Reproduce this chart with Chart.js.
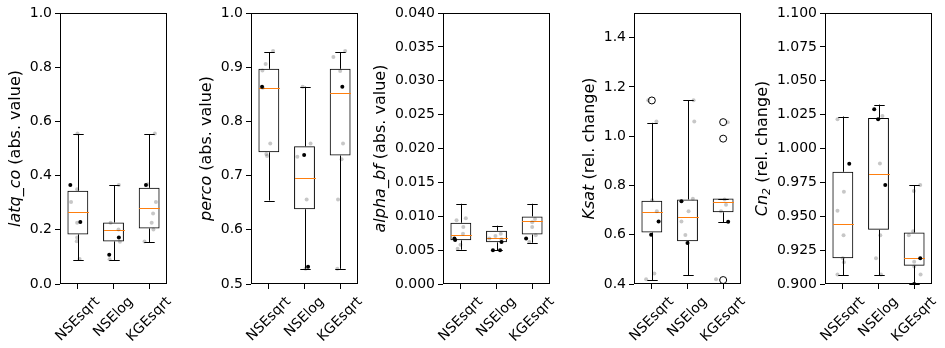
<!DOCTYPE html>
<html>
<head>
<meta charset="utf-8">
<script src="https://cdn.jsdelivr.net/npm/chart.js@4.4.1/dist/chart.umd.min.js"></script>
<style>
  body { margin: 0; background: #fff; overflow: hidden; }
  #wrap { position: relative; width: 945px; height: 348px; }
  canvas { position: absolute; top: 0; }
</style>
</head>
<body>
<div id="wrap"></div>
<script>
// Categories shared by all five panels
const categories = ['NSEsqrt', 'NSElog', 'KGEsqrt'];

// Box stats per category: [low whisker, q1, median, q3, high whisker]
const latqBox = [[0.087, 0.183, 0.264, 0.344, 0.552], [0.087, 0.157, 0.201, 0.227, 0.364], [0.154, 0.205, 0.279, 0.355, 0.552]];
const latqGray = [[0.99, 0.555], [0.98, 0.35], [0.81, 0.303], [0.98, 0.226], [0.98, 0.172], [0.97, 0.158], [1.05, 0.092],
  [2.15, 0.365], [1.92, 0.226], [2.14, 0.201], [2.18, 0.156], [1.89, 0.091],
  [2.96, 0.368], [3.19, 0.303], [3.11, 0.26], [3.07, 0.226], [3.12, 0.201], [2.87, 0.157], [3.16, 0.555]];
const latqBlack = [[0.79, 0.365], [1.07, 0.229], [2.15, 0.172], [1.88, 0.108], [2.91, 0.365]];
const latqOut = [];
const latqTicks = [0, 0.2, 0.4, 0.6, 0.8, 1.0];

const percoBox = [[0.654, 0.743, 0.862, 0.897, 0.928], [0.528, 0.638, 0.695, 0.754, 0.864], [0.528, 0.737, 0.853, 0.897, 0.928]];
const percoGray = [[1.12, 0.93], [0.91, 0.906], [0.82, 0.894], [0.83, 0.862], [1.04, 0.759], [0.93, 0.74], [0.95, 0.736],
  [1.95, 0.864], [2.17, 0.759], [1.80, 0.735], [2.06, 0.656], [2.03, 0.528],
  [3.14, 0.93], [2.81, 0.919], [3.0, 0.893], [3.08, 0.759], [3.04, 0.73], [2.94, 0.656], [2.92, 0.528]];
const percoBlack = [[0.81, 0.864], [1.99, 0.738], [2.10, 0.532], [3.06, 0.864]];
const percoOut = [];
const percoTicks = [0.5, 0.6, 0.7, 0.8, 0.9, 1.0];

const alphaBox = [[0.00506, 0.00644, 0.00718, 0.00904, 0.01184], [0.00497, 0.00615, 0.00683, 0.00786, 0.0086], [0.00609, 0.0073, 0.00924, 0.00998, 0.01184]];
const alphaGray = [[0.88, 0.0094], [1.14, 0.0097], [1.07, 0.0084], [1.06, 0.0074], [0.99, 0.0058], [0.91, 0.0052],
  [1.80, 0.0067], [1.97, 0.0071], [2.12, 0.0074], [2.14, 0.0066],
  [3.0, 0.0091], [3.08, 0.0096], [3.0, 0.0084], [3.1, 0.0072], [2.92, 0.0062]];
const alphaBlack = [[0.82, 0.0067], [0.84, 0.0065], [2.14, 0.0062], [1.90, 0.0050], [2.10, 0.0050], [2.83, 0.0067]];
const alphaOut = [];
const alphaTicks = [0, 0.005, 0.01, 0.015, 0.02, 0.025, 0.03, 0.035, 0.04];

const ksatBox = [[0.415, 0.609, 0.691, 0.738, 1.054], [0.435, 0.574, 0.670, 0.743, 1.146], [0.651, 0.691, 0.731, 0.747, 0.747]];
const ksatGray = [[0.9, 1.146], [1.13, 1.06], [1.01, 0.74], [1.14, 0.695], [0.84, 0.419], [1.07, 0.443],
  [2.17, 1.146], [2.19, 1.06], [2.15, 0.746], [2.03, 0.695], [1.83, 0.654], [1.94, 0.599],
  [3.13, 1.057], [3.04, 0.743], [3.08, 0.722], [2.94, 0.695], [2.8, 0.419]];
const ksatBlack = [[1.19, 0.654], [0.98, 0.6], [1.83, 0.736], [2.0, 0.566], [3.14, 0.653]];
const ksatOut = [[1, 1.145], [3, 1.057], [3, 0.99], [3, 0.416]];
const ksatTicks = [0.4, 0.6, 0.8, 1.0, 1.2, 1.4];

const cn2Box = [[0.9064, 0.919, 0.944, 0.9828, 1.0236], [0.9064, 0.940, 0.981, 1.0226, 1.0324], [0.9002, 0.9135, 0.919, 0.938, 0.973]];
const cn2Gray = [[0.85, 1.0216], [1.03, 0.968], [0.85, 0.954], [1.02, 0.936], [1.0, 0.919], [1.03, 0.916], [0.85, 0.907],
  [2.11, 1.024], [2.04, 0.989], [2.05, 0.936], [1.93, 0.919], [2.07, 0.907],
  [3.17, 0.973], [2.99, 0.9686], [2.97, 0.939], [2.85, 0.936], [3.0, 0.9165], [3.0, 0.913], [3.18, 0.907]];
const cn2Black = [[1.18, 0.9887], [1.88, 1.029], [1.99, 1.0216], [2.19, 0.973], [3.17, 0.919], [3.0, 0.9]];
const cn2Out = [];
const cn2Ticks = [0.9, 0.925, 0.95, 0.975, 1.0, 1.025, 1.05, 1.075, 1.1];

const panels = [
  { left: 60, box: latqBox, gray: latqGray, black: latqBlack, out: latqOut, ticks: latqTicks, min: 0, max: 1, dec: 1,
    label: [{ t: 'latq_co', it: true }, { t: ' (abs. value)' }] },
  { left: 251, box: percoBox, gray: percoGray, black: percoBlack, out: percoOut, ticks: percoTicks, min: 0.5, max: 1, dec: 1,
    label: [{ t: 'perco', it: true }, { t: ' (abs. value)' }] },
  { left: 443, box: alphaBox, gray: alphaGray, black: alphaBlack, out: alphaOut, ticks: alphaTicks, min: 0, max: 0.04, dec: 3,
    label: [{ t: 'alpha_bf', it: true }, { t: ' (abs. value)' }] },
  { left: 634, box: ksatBox, gray: ksatGray, black: ksatBlack, out: ksatOut, ticks: ksatTicks, min: 0.4, max: 1.5, dec: 1,
    label: [{ t: 'Ksat', it: true }, { t: ' (rel. change)' }] },
  { left: 825, box: cn2Box, gray: cn2Gray, black: cn2Black, out: cn2Out, ticks: cn2Ticks, min: 0.9, max: 1.1, dec: 3,
    label: [{ t: 'Cn', it: true }, { t: '2', it: true, sub: true }, { t: ' (rel. change)' }] }
];

const FONT = 'DejaVu Sans';
const AXIS_W = 80;
const PLOT_W = 107;
Chart.defaults.font.family = FONT;

// whiskers, caps and medians, drawn right after the boxes
const boxExtras = {
  id: 'boxExtras',
  afterDatasetDraw(chart, args, opts) {
    if (args.index !== 0) return;
    const ctx = chart.ctx;
    const xs = chart.scales.x, ys = chart.scales.y;
    const bars = chart.getDatasetMeta(0).data;
    opts.box.forEach((b, i) => {
      const x = Math.round(xs.getPixelForValue(i + 1)) + 0.5;
      const half = bars[i].width / 2;
      const [lo, q1, med, q3, hi] = b.map(v => ys.getPixelForValue(v));
      ctx.save();
      ctx.strokeStyle = '#000';
      ctx.lineWidth = 1;
      ctx.beginPath();
      ctx.moveTo(x, lo); ctx.lineTo(x, q1);
      ctx.moveTo(x, q3); ctx.lineTo(x, hi);
      ctx.moveTo(x - half / 2, Math.round(lo) + 0.5); ctx.lineTo(x + half / 2, Math.round(lo) + 0.5);
      ctx.moveTo(x - half / 2, Math.round(hi) + 0.5); ctx.lineTo(x + half / 2, Math.round(hi) + 0.5);
      ctx.stroke();
      ctx.strokeStyle = '#ff7f0e';
      ctx.beginPath();
      ctx.moveTo(x - half, Math.round(med) + 0.5); ctx.lineTo(x + half, Math.round(med) + 0.5);
      ctx.stroke();
      ctx.restore();
    });
  }
};

// frame, rotated x labels and the mixed-style y title
const axesDecor = {
  id: 'axesDecor',
  afterDraw(chart, args, opts) {
    const ctx = chart.ctx;
    const a = chart.chartArea;
    const xs = chart.scales.x, ys = chart.scales.y;
    ctx.save();
    ctx.strokeStyle = '#000';
    ctx.lineWidth = 1;
    ctx.strokeRect(Math.round(a.left) + 0.5, Math.round(a.top) + 0.5,
      Math.round(a.right - a.left) - 1, Math.round(a.bottom - a.top) - 1);

    // x labels at 45 degrees, bounding box centred under the tick
    ctx.fillStyle = '#000';
    ctx.font = '14px ' + FONT;
    ctx.textAlign = 'center';
    ctx.textBaseline = 'middle';
    categories.forEach((c, i) => {
      const x = xs.getPixelForValue(i + 1);
      const w = ctx.measureText(c).width;
      const half = (w + 10) * Math.SQRT1_2 / 2;
      ctx.save();
      ctx.translate(x, a.bottom + 12 + half);
      ctx.rotate(-Math.PI / 4);
      ctx.fillText(c, 0, 0);
      ctx.restore();
    });

    // y title
    const maxW = Math.max(...ys.ticks.map(t => ctx.measureText(t.label).width));
    const cx = a.left - 8 - maxW - 14;
    const cy = (a.top + a.bottom) / 2;
    const fontOf = p => (p.it ? 'italic ' : '') + (p.sub ? '11px ' : '16px ') + FONT;
    let total = 0;
    opts.label.forEach(p => { ctx.font = fontOf(p); total += ctx.measureText(p.t).width; });
    ctx.translate(cx, cy);
    ctx.rotate(-Math.PI / 2);
    ctx.textAlign = 'left';
    let pos = -total / 2;
    opts.label.forEach(p => {
      ctx.font = fontOf(p);
      ctx.fillText(p.t, pos, p.sub ? 4 : 0);
      pos += ctx.measureText(p.t).width;
    });
    ctx.restore();
  }
};

const wrap = document.getElementById('wrap');

panels.forEach(p => {
  const canvas = document.createElement('canvas');
  canvas.width = AXIS_W + PLOT_W + 6;
  canvas.height = 348;
  canvas.style.left = (p.left - AXIS_W) + 'px';
  wrap.appendChild(canvas);

  const toPts = arr => arr.map(([x, y]) => ({ x, y }));

  new Chart(canvas, {
    type: 'bar',
    data: {
      datasets: [
        {
          type: 'bar',
          data: p.box.map((b, i) => ({ x: i + 1, y: [b[1], b[3]] })),
          backgroundColor: 'rgba(0,0,0,0)',
          borderColor: '#000',
          borderWidth: 1,
          borderSkipped: false,
          barPercentage: 0.585,
          categoryPercentage: 1,
          order: 3
        },
        {
          type: 'scatter',
          data: toPts(p.gray),
          pointRadius: 2,
          pointBackgroundColor: 'rgba(0,0,0,0.22)',
          pointBorderWidth: 0,
          order: 2
        },
        {
          type: 'scatter',
          data: toPts(p.black),
          pointRadius: 2,
          pointBackgroundColor: '#000',
          pointBorderWidth: 0,
          order: 1
        },
        {
          type: 'scatter',
          data: toPts(p.out),
          pointRadius: 3.5,
          pointBackgroundColor: 'rgba(0,0,0,0)',
          pointBorderColor: '#000',
          pointBorderWidth: 1,
          order: 0
        }
      ]
    },
    options: {
      responsive: false,
      animation: false,
      events: [],
      layout: { padding: { top: 13, right: 6, left: 0, bottom: 0 } },
      plugins: {
        legend: { display: false },
        tooltip: { enabled: false },
        boxExtras: { box: p.box },
        axesDecor: { label: p.label }
      },
      scales: {
        x: {
          type: 'linear',
          min: 0.5,
          max: 3.5,
          offset: false,
          afterBuildTicks: s => { s.ticks = categories.map((c, i) => ({ value: i + 1 })); },
          ticks: { display: false },
          grid: { offset: false, drawOnChartArea: false, drawTicks: true, tickLength: 5, color: '#000', lineWidth: 1 },
          border: { display: false },
          afterFit: s => { s.height = 64; }
        },
        y: {
          min: p.min,
          max: p.max,
          afterBuildTicks: s => { s.ticks = p.ticks.map(v => ({ value: v })); },
          ticks: {
            callback: v => v.toFixed(p.dec),
            color: '#000',
            font: { family: FONT, size: 14 },
            padding: 3
          },
          grid: { drawOnChartArea: false, drawTicks: true, tickLength: 5, color: '#000', lineWidth: 1 },
          border: { display: false },
          afterFit: s => { s.width = AXIS_W; }
        }
      }
    },
    plugins: [boxExtras, axesDecor]
  });
});
</script>
</body>
</html>
